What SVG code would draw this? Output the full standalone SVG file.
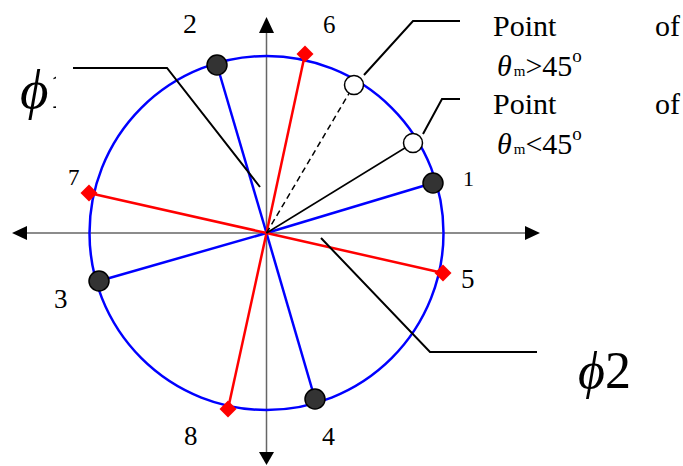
<svg xmlns="http://www.w3.org/2000/svg" width="683" height="466" viewBox="0 0 683 466">
<style>
.ax{stroke:#666;stroke-width:1.5;fill:none}
.ah{fill:#000}
.bl{stroke:#0000ff;stroke-width:2.5;fill:none}
.rd{stroke:#ff0000;stroke-width:2.5;fill:none}
.ld{stroke:#000;stroke-width:2;fill:none}
.dot{fill:#333;stroke:#000;stroke-width:1.5}
.wdot{fill:#fff;stroke:#000;stroke-width:1.5}
.dia{fill:#ff0000}
text{font-family:'Liberation Serif','Times New Roman',serif;fill:#000}
</style>
<defs>
<clipPath id="c1"><rect x="0" y="50" width="56" height="90"/></clipPath>
</defs>
<g id="axes">
<line class="ax" x1="27" y1="233" x2="525" y2="233"/>
<line class="ax" x1="266.5" y1="33" x2="266.5" y2="452"/>
<polygon class="ah" points="12,233 27,226 27,240"/>
<polygon class="ah" points="540,233 525,226 525,240"/>
<polygon class="ah" points="266.5,17 259,33 274,33"/>
<polygon class="ah" points="266.5,465 259,452 274,452"/>
</g>
<g id="circle">
<circle class="bl" cx="266.5" cy="233" r="177"/>
</g>
<g id="connectors">
<line class="bl" x1="266.5" y1="233" x2="433" y2="183"/>
<line class="bl" x1="266.5" y1="233" x2="217" y2="65"/>
<line class="bl" x1="266.5" y1="233" x2="99" y2="281"/>
<line class="bl" x1="266.5" y1="233" x2="315" y2="399"/>
<line class="rd" x1="266.5" y1="233" x2="305" y2="54"/>
<line class="rd" x1="266.5" y1="233" x2="89" y2="193"/>
<line class="rd" x1="266.5" y1="233" x2="443" y2="273"/>
<line class="rd" x1="266.5" y1="233" x2="228" y2="409"/>
<line x1="266.5" y1="233" x2="354" y2="85" stroke="#000" stroke-width="1.5" stroke-dasharray="6,4"/>
<line x1="266.5" y1="233" x2="413" y2="143" stroke="#000" stroke-width="1.5"/>
<polyline class="ld" points="364,75 413,21 460,21"/>
<polyline class="ld" points="423,134 442,99 460,99"/>
<polyline class="ld" points="73,68 167,68 260,187"/>
<polyline class="ld" points="321,238 430,352 537,352"/>
</g>
<g id="p1"><circle class="dot" cx="433" cy="183" r="10"/><text font-family="Liberation Serif, serif" x="463" y="186" font-size="22">1</text></g>
<g id="p2"><circle class="dot" cx="217" cy="65" r="10"/><text font-family="Liberation Serif, serif" x="183" y="33" font-size="28">2</text></g>
<g id="p3"><circle class="dot" cx="99" cy="281" r="10"/><text font-family="Liberation Serif, serif" x="54" y="308" font-size="27">3</text></g>
<g id="p4"><circle class="dot" cx="315" cy="399" r="10"/><text font-family="Liberation Serif, serif" x="322" y="445" font-size="26">4</text></g>
<g id="p5"><rect class="dia" x="-6" y="-6" width="12" height="12" transform="translate(443,273) rotate(45)"/><text font-family="Liberation Serif, serif" x="461" y="288" font-size="27">5</text></g>
<g id="p6"><rect class="dia" x="-6" y="-6" width="12" height="12" transform="translate(305,54) rotate(45)"/><text font-family="Liberation Serif, serif" x="323" y="33" font-size="25">6</text></g>
<g id="p7"><rect class="dia" x="-6" y="-6" width="12" height="12" transform="translate(89,193) rotate(45)"/><text font-family="Liberation Serif, serif" x="68" y="185" font-size="23">7</text></g>
<g id="p8"><rect class="dia" x="-6" y="-6" width="12" height="12" transform="translate(228,409) rotate(45)"/><text font-family="Liberation Serif, serif" x="184" y="445" font-size="27">8</text></g>
<g id="m1"><circle class="wdot" cx="354" cy="85" r="9.5"/></g>
<g id="m2"><circle class="wdot" cx="413" cy="143" r="9.5"/></g>
<g id="label-gt" font-family="Liberation Serif, serif">
<text x="493" y="36" font-size="30">Point</text>
<text x="655" y="36" font-size="30">of</text>
<text x="497" y="76" font-size="30"><tspan font-style="italic">θ</tspan><tspan font-size="15" dx="2">m</tspan><tspan>&gt;45</tspan><tspan font-size="19" dy="-14">o</tspan></text>
</g>
<g id="label-lt" font-family="Liberation Serif, serif">
<text x="493" y="114" font-size="30">Point</text>
<text x="655" y="114" font-size="30">of</text>
<text x="497" y="154" font-size="30"><tspan font-style="italic">θ</tspan><tspan font-size="15" dx="2">m</tspan><tspan>&lt;45</tspan><tspan font-size="19" dy="-14">o</tspan></text>
</g>
<g id="phi1">
<text font-family="Liberation Serif, serif" x="20" y="108" font-size="55" clip-path="url(#c1)"><tspan font-style="italic">ϕ</tspan><tspan>1</tspan></text>
</g>
<g id="phi2">
<text font-family="Liberation Serif, serif" x="578" y="388" font-size="52"><tspan font-style="italic">ϕ</tspan><tspan>2</tspan></text>
</g>
</svg>
